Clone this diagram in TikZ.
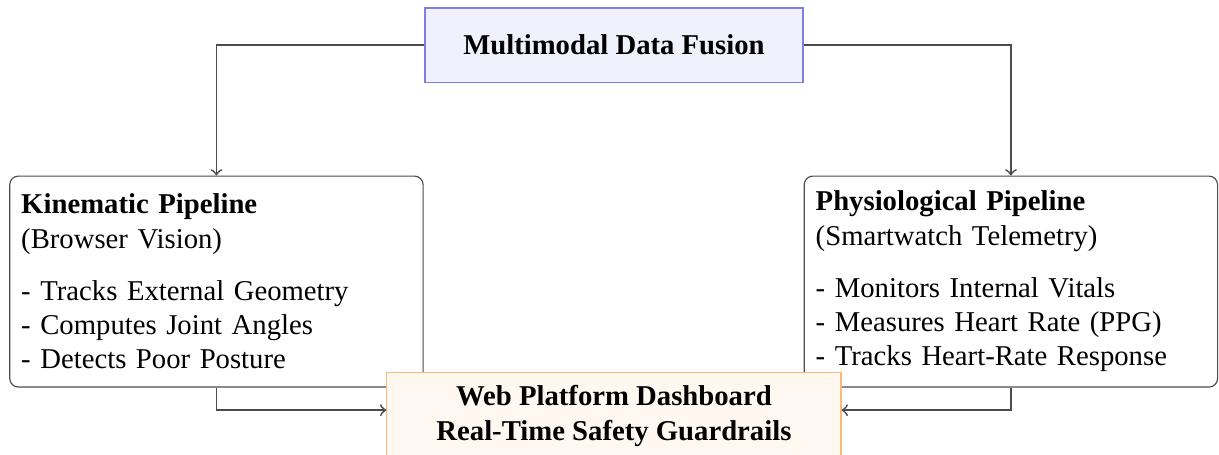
\documentclass[tikz,border=0pt]{standalone}
\usepackage{fontspec}
\setmainfont{Liberation Serif}
\usetikzlibrary{calc}
\usetikzlibrary{positioning}

\definecolor{fusionfill}{HTML}{F1F1FD}
\definecolor{fusionline}{HTML}{7F7FEA}
\definecolor{dashfill}{HTML}{FFF8F1}
\definecolor{dashline}{HTML}{FDB877}

\tikzset{
  pipe/.style={draw=black!70, rounded corners=3pt, fill=white, align=left,
    text width=136pt, inner sep=4pt, minimum height=73.5pt},
  flow/.style={->, draw=black!70, semithick},
}

\begin{document}
\begin{tikzpicture}
  \useasboundingbox (0,0) rectangle (424.7pt,-158.2pt);

    \node [draw=fusionline, fill=fusionfill, font=\bfseries, minimum width=131.7pt, minimum height=25.8pt] (fusion) at (213.9pt,-15.7pt) {Multimodal Data Fusion};

    \node [pipe] (kin) at (75.4pt,-98.1pt) {\textbf{Kinematic Pipeline}\\(Browser Vision)\\[6pt]
      - Tracks External Geometry\\- Computes Joint Angles\\- Detects Poor Posture};
    \node [pipe, right=132.4pt of kin] (phys) {\textbf{Physiological Pipeline}\\(Smartwatch Telemetry)\\[6pt]
      - Monitors Internal Vitals\\- Measures Heart Rate (PPG)\\- Tracks Heart-Rate Response};

    \draw [flow] (fusion.west) -| (kin.north);
    \draw [flow] (fusion.east) -| (phys.north);

    \node [draw=dashline, fill=dashfill, font=\bfseries, align=center, minimum width=158.2pt, inner ysep=4.5pt, anchor=north] (dash) at (213.9pt,-129.6pt) {Web Platform Dashboard\\Real-Time Safety Guardrails};

    \draw [flow] (kin.south) |- ([yshift=-13.3pt]dash.north west);
    \draw [flow] (phys.south) |- ([yshift=-13.3pt]dash.north east);
\end{tikzpicture}
\end{document}
